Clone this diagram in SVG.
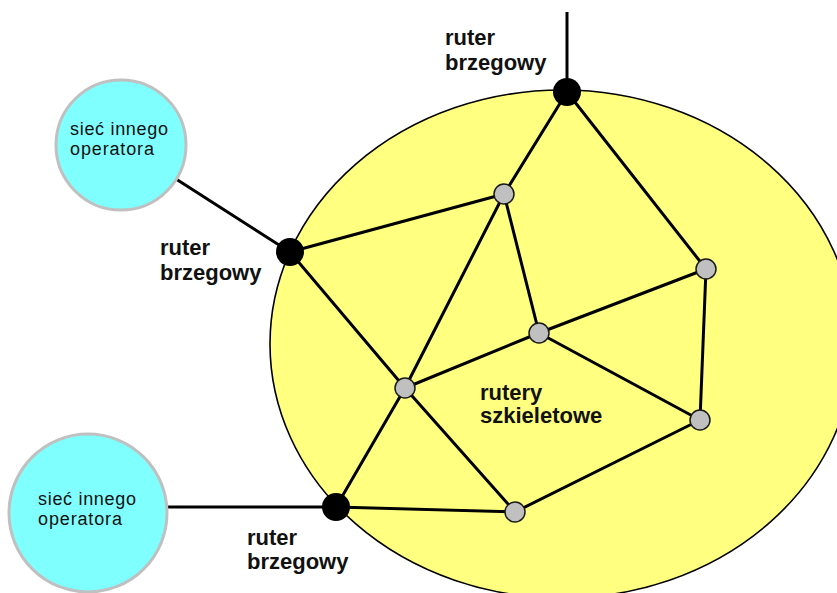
<svg xmlns="http://www.w3.org/2000/svg" width="837" height="593" viewBox="0 0 837 593">
<style>
.bg{fill:#ffffff}
.area{fill:#ffff80;stroke:#000;stroke-width:1.6}
.net{fill:#80ffff;stroke:#c0c0c0;stroke-width:3}
.edge{stroke:#000;stroke-width:3;fill:none;stroke-linecap:round}
.edge-r{stroke:#000;stroke-width:3;fill:none}
.border{fill:#000}
.core{fill:#c0c0c0;stroke:#1a1a1a;stroke-width:1.5}
.lbl{font-family:"Liberation Sans",Arial,sans-serif;font-weight:bold;font-size:22px;fill:#111}
.nlbl{font-family:"Liberation Sans",Arial,sans-serif;font-size:18px;fill:#111}
</style>
<rect class="bg" x="0" y="0" width="837" height="593"/>
<g id="backbone-area">
<ellipse class="area" cx="562" cy="344" rx="292" ry="254"/>
</g>
<g id="connectors">
<line class="edge-r" x1="567" y1="12" x2="567" y2="92"/>
<line class="edge" x1="567" y1="92" x2="504" y2="194"/>
<line class="edge" x1="567" y1="92" x2="706" y2="269"/>
<line class="edge" x1="290" y1="252" x2="504" y2="194"/>
<line class="edge" x1="290" y1="252" x2="405" y2="388"/>
<line class="edge" x1="176" y1="179" x2="290" y2="252"/>
<line class="edge" x1="336" y1="507" x2="405" y2="388"/>
<line class="edge" x1="336" y1="507" x2="515" y2="512"/>
<line class="edge-r" x1="168" y1="507" x2="336" y2="507"/>
<line class="edge" x1="504" y1="194" x2="405" y2="388"/>
<line class="edge" x1="504" y1="194" x2="539" y2="333"/>
<line class="edge" x1="539" y1="333" x2="706" y2="269"/>
<line class="edge" x1="539" y1="333" x2="405" y2="388"/>
<line class="edge" x1="539" y1="333" x2="700" y2="420"/>
<line class="edge" x1="706" y1="269" x2="700" y2="420"/>
<line class="edge" x1="700" y1="420" x2="515" y2="512"/>
<line class="edge" x1="405" y1="388" x2="515" y2="512"/>
</g>
<g id="net1">
<circle class="net" cx="121" cy="145" r="65"/>
<text class="nlbl" x="70" y="135" textLength="98">sieć innego</text>
<text class="nlbl" x="70" y="155" textLength="84">operatora</text>
</g>
<g id="net2">
<circle class="net" cx="88" cy="513" r="79"/>
<text class="nlbl" x="38" y="505" textLength="98">sieć innego</text>
<text class="nlbl" x="38" y="525" textLength="84">operatora</text>
</g>
<g id="edge-router-top">
<circle class="border" cx="567" cy="92" r="14"/>
<text class="lbl" x="445" y="45">ruter</text>
<text class="lbl" x="445" y="70">brzegowy</text>
</g>
<g id="edge-router-left">
<circle class="border" cx="290" cy="252" r="14"/>
<text class="lbl" x="160" y="255">ruter</text>
<text class="lbl" x="160" y="280">brzegowy</text>
</g>
<g id="edge-router-bottom">
<circle class="border" cx="336" cy="507" r="14"/>
<text class="lbl" x="247" y="545">ruter</text>
<text class="lbl" x="247" y="569">brzegowy</text>
</g>
<g id="core1"><circle class="core" cx="504" cy="194" r="10"/></g>
<g id="core2"><circle class="core" cx="706" cy="269" r="10"/></g>
<g id="core3"><circle class="core" cx="539" cy="333" r="10"/></g>
<g id="core4"><circle class="core" cx="405" cy="388" r="10"/></g>
<g id="core5"><circle class="core" cx="700" cy="420" r="10"/></g>
<g id="core6"><circle class="core" cx="515" cy="512" r="10"/></g>
<g id="core-label">
<text class="lbl" x="480" y="400">rutery</text>
<text class="lbl" x="480" y="423">szkieletowe</text>
</g>
</svg>
